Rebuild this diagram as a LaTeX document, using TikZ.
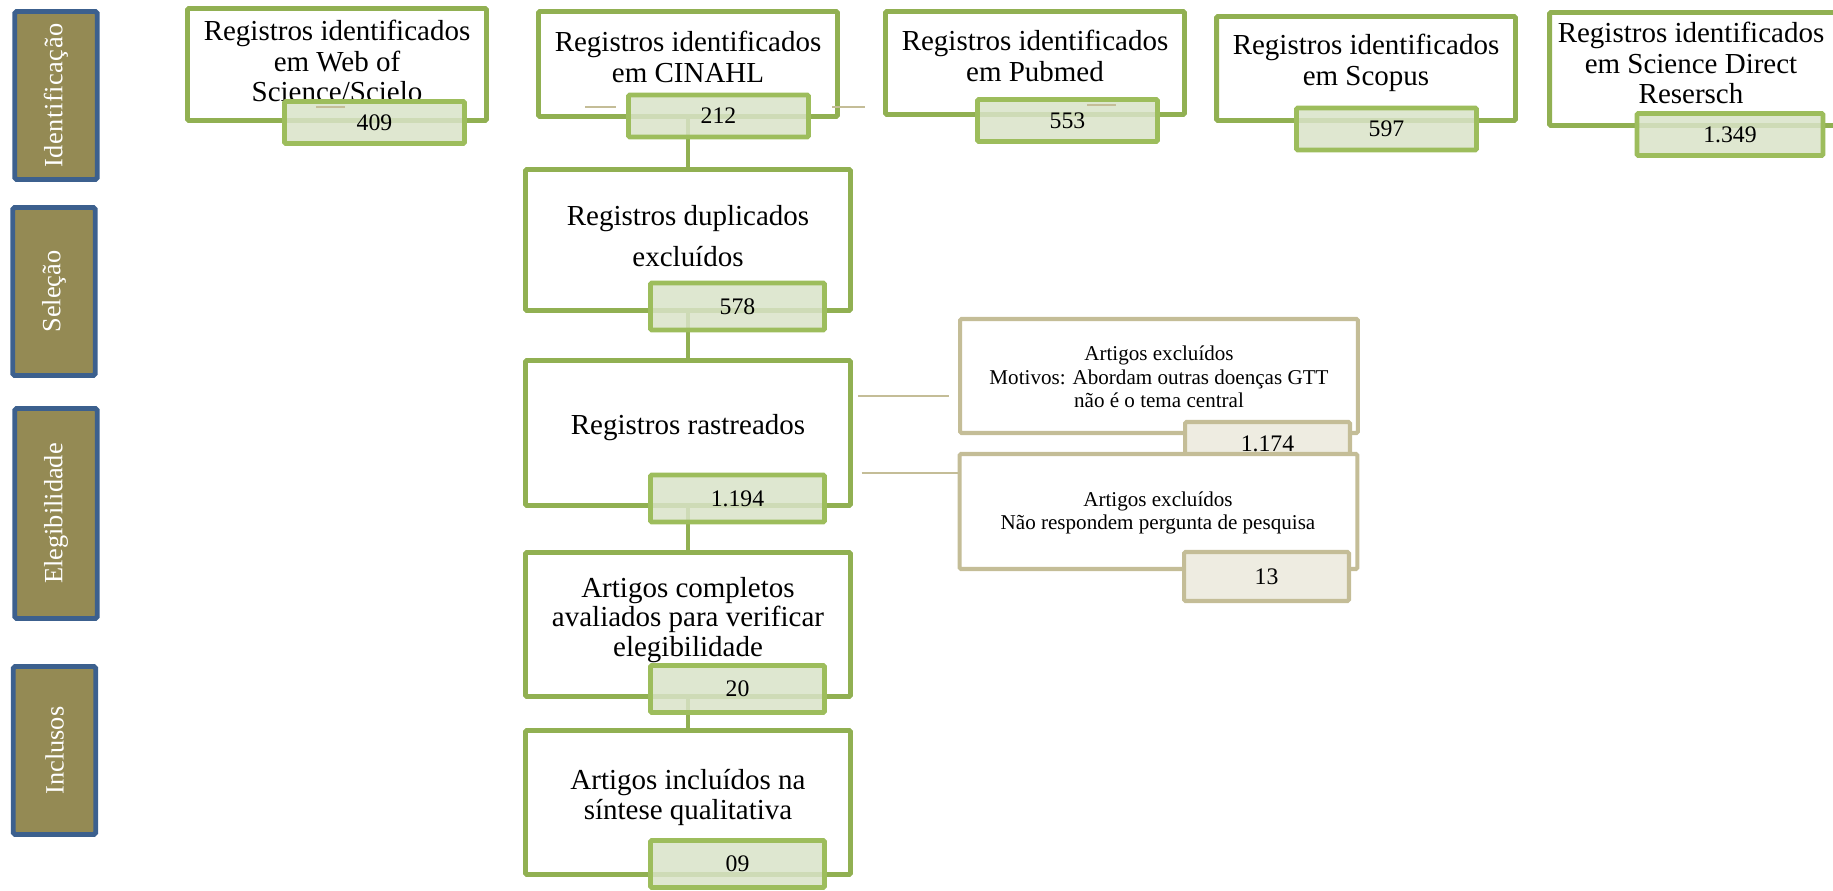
\documentclass[tikz,border=0pt]{standalone}
\usepackage{fontspec}
\setmainfont{Liberation Serif}
\usetikzlibrary{calc}
\definecolor{boxgreen}{RGB}{145,176,82}
\definecolor{numgreen}{RGB}{157,189,92}
\definecolor{numfill}{RGB}{217,227,200}
\definecolor{tanline}{RGB}{196,189,151}
\definecolor{tanfill}{RGB}{238,236,225}
\definecolor{phaseblue}{RGB}{60,96,142}
\definecolor{phasefill}{RGB}{148,138,84}

\begin{document}
\begin{tikzpicture}[
    x=0.02cm, y=-0.02cm,
    Obox/.style={draw=boxgreen, line width=2.8pt, fill=white, rounded corners=0.8pt},
    Tbox/.style={Obox, minimum width=5.98cm},
    Cbox/.style={Obox, minimum width=6.5cm},
    Nbox/.style={draw=numgreen, line width=2.8pt, fill=numfill, fill opacity=0.85, text opacity=1,
        rounded corners=0.8pt, minimum width=3.6cm, minimum height=0.84cm, inner sep=0pt,
        font=\fontsize{13.5}{15}\selectfont},
    Ebox/.style={draw=tanline, line width=2.3pt, fill=white, rounded corners=0.8pt, minimum width=7.96cm},
    Enbox/.style={draw=tanline, line width=2.3pt, fill=tanfill, rounded corners=0.8pt, minimum width=3.3cm,
        inner sep=0pt, font=\fontsize{13.5}{15}\selectfont},
    Pbox/.style={draw=phaseblue, line width=2.8pt, fill=phasefill, rounded corners=1pt, rotate=90,
        minimum height=1.65cm, text=white, font=\fontsize{15}{17}\selectfont},
    Btxt/.style={align=center, inner sep=0pt, font=\fontsize{16.5}{17.6}\selectfont},
    Etxt/.style={align=center, inner sep=0pt, font=\fontsize{12}{13.3}\selectfont},
    ln/.style={draw=boxgreen, line width=2.5pt},
    tln/.style={draw=tanline, line width=0.9pt},
]
\useasboundingbox (0,0) rectangle (1833,891);
\clip (0,0) rectangle (1833,891);

% fases
\node[Pbox, minimum width=3.36cm] (ph1) at (56,95.5) {\addfontfeature{LetterSpace=2}Identificação};
\node[Pbox, minimum width=3.36cm] (ph2) at (54,291.5) {Seleção};
\node[Pbox, minimum width=4.2cm] (ph3) at (56,513.5) {Elegibilidade};
\node[Pbox, minimum width=3.36cm] (ph4) at (54.5,750.5) {Inclusos};

% bases de dados
\node[Tbox, minimum height=2.24cm] (wos) at (337,64.5) {};
\node[Tbox, minimum height=2.1cm] (cin) at (688,64) {};
\node[Tbox, minimum height=2.06cm] (pub) at (1035,63) {};
\node[Tbox, minimum height=2.08cm] (sco) at (1366,68.5) {};
\node[Tbox, minimum height=2.26cm] (sdr) at (1699,69) {};
\node[Btxt] (woslbl) at (337,61) {Registros identificados\\em Web of\\Science/Scielo};
\node[Btxt] (cinlbl) at (688,57) {Registros identificados\\em CINAHL};
\node[Btxt] (publbl) at (1035,56) {Registros identificados\\em Pubmed};
\node[Btxt] (scolbl) at (1366,63) {Registros identificados\\em Scopus};
\node[Btxt] (sdrlbl) at (1691,63) {Registros identificados\\em Science Direct\\Resersch};

% fluxo central
\node[Cbox, minimum height=2.82cm] (dup) at (688,240) {};
\node[Cbox, minimum height=2.9cm] (ras) at (688,433) {};
\node[Cbox, minimum height=2.88cm] (comp) at (688,624.5) {};
\node[Cbox, minimum height=2.88cm] (inc) at (688,802.5) {};
\node[Btxt, font=\fontsize{16.5}{23}\selectfont] (duplbl) at (688,236) {Registros duplicados\\excluídos};
\node[Btxt] (raslbl) at (688,428) {Registros rastreados};
\node[Btxt, font=\fontsize{16.5}{17}\selectfont] (complbl) at (688,620) {Artigos completos\\avaliados para verificar\\elegibilidade};
\node[Btxt, font=\fontsize{16.5}{17}\selectfont] (inclbl) at (688,797.5) {Artigos incluídos na\\síntese qualitativa};

% excluidos
\node[Ebox, minimum height=2.28cm] (ex1) at (1159,376) {};
\node[Etxt] (ex1lbl) at (1159,377) {Artigos excluídos\\Motivos: Abordam outras doenças GTT\\não é o tema central};
\node[Enbox, minimum height=0.86cm] (ex1n) at (1267.5,443.5) {1.174};
\node[Ebox, minimum height=2.3cm] (ex2) at (1158.5,511.5) {};
\node[Etxt] (ex2lbl) at (1158,513) {Artigos excluídos\\Não respondem pergunta de pesquisa};
\node[Enbox, minimum height=0.98cm] (ex2n) at (1266.5,576.5) {13};

% ligacoes
\draw[ln] (cin.south) -- (dup.north);
\draw[ln] (dup.south) -- (ras.north);
\draw[ln] (ras.south) -- (comp.north);
\draw[ln] (comp.south) -- (inc.north);
\coordinate (t1) at ([yshift=0.74cm]ras.east);
\coordinate (t2) at ([yshift=-0.8cm]ras.east);
\draw[tln, shorten <=3pt, shorten >=5pt] (t1) -- (t1 -| ex1.west);
\draw[tln, shorten <=5pt] (t2) -- (t2 -| ex2.west);

% numeros
\node[Nbox] (wosn) at (374.5,122.5) {409};
\node[Nbox] (cinn) at (718.5,116) {212};
\node[Nbox] (pubn) at (1067.5,120.5) {553};
\node[Nbox] (scon) at (1386.5,129) {597};
\node[Nbox, minimum width=3.72cm] (sdrn) at (1730,134.5) {1.349};
\node[Nbox, minimum width=3.48cm, minimum height=0.94cm] (dupn) at (737.5,306.5) {578};
\node[Nbox, minimum width=3.48cm, minimum height=0.94cm] (rasn) at (737.5,498.5) {1.194};
\node[Nbox, minimum width=3.48cm, minimum height=0.94cm] (compn) at (737.5,689) {20};
\node[Nbox, minimum width=3.48cm, minimum height=0.94cm] (incn) at (737.5,864) {09};

% tracos soltos
\draw[tln, line width=1.6pt] (316,107) -- (345,107);
\draw[tln, line width=1.6pt] (585,107) -- (616,107);
\draw[tln, line width=1.6pt] (832,107) -- (865,107);
\draw[tln, line width=1.6pt] (1087,105) -- (1116,105);
\end{tikzpicture}
\end{document}
